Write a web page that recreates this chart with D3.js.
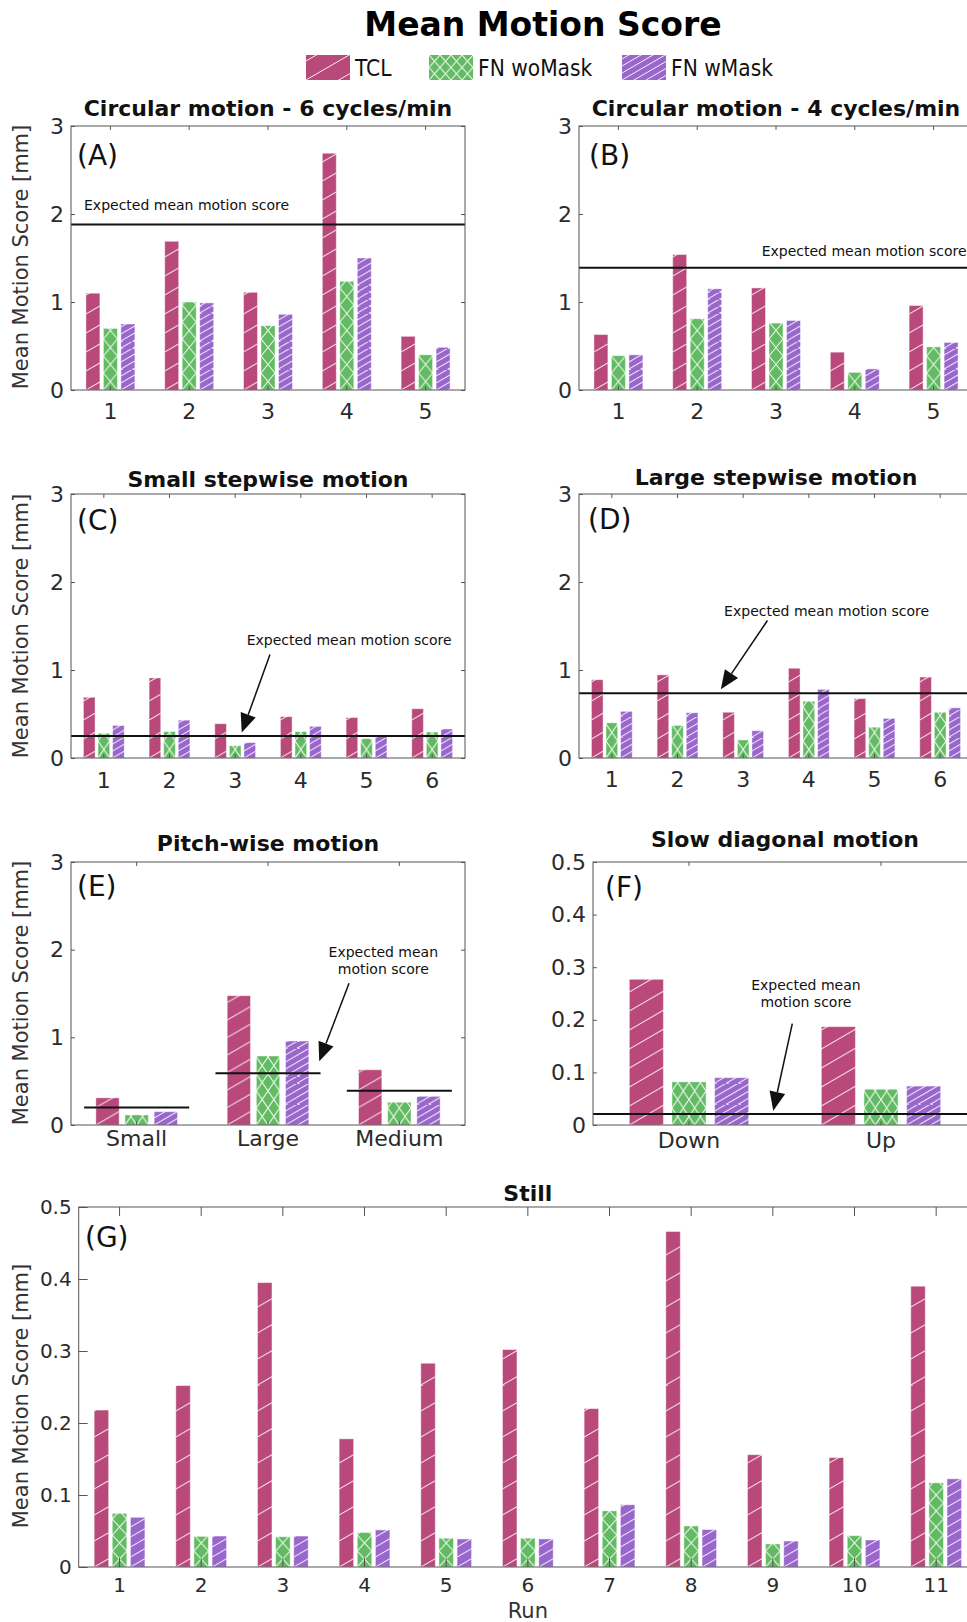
<!DOCTYPE html>
<html>
<head>
<meta charset="utf-8">
<script src="https://cdn.jsdelivr.net/npm/d3@7"></script>
<style>
  body { margin: 0; background: #fff; }
  svg { display: block; font-family: "DejaVu Sans", Verdana, sans-serif; }
</style>
</head>
<body>
<div id="chart"></div>
<script>
// Serien
const seriesNames = ["TCL", "FN woMask", "FN wMask"];
const seriesColors = ["#b8497a", "#62bb62", "#9966cc"];
const seriesHatch = ["single", "cross", "dense"];

// Kategorien
const runs5 = ["1", "2", "3", "4", "5"];
const runs6 = ["1", "2", "3", "4", "5", "6"];
const pitchCats = ["Small", "Large", "Medium"];
const diagCats = ["Down", "Up"];
const stillRuns = ["1", "2", "3", "4", "5", "6", "7", "8", "9", "10", "11"];

// Achsen-Ticks
const ticksMm = [0, 1, 2, 3];
const ticksSmall = [0, 0.1, 0.2, 0.3, 0.4, 0.5];

// (A) Circular motion - 6 cycles/min
const circ6TCL = [1.10, 1.69, 1.11, 2.69, 0.61];
const circ6FNwo = [0.70, 1.00, 0.73, 1.235, 0.40];
const circ6FNw = [0.75, 0.99, 0.86, 1.50, 0.485];
const circ6Expected = 1.88;

// (B) Circular motion - 4 cycles/min
const circ4TCL = [0.63, 1.54, 1.16, 0.43, 0.96];
const circ4FNwo = [0.39, 0.81, 0.76, 0.20, 0.49];
const circ4FNw = [0.40, 1.15, 0.79, 0.24, 0.54];
const circ4Expected = 1.39;

// (C) Small stepwise motion
const smallTCL = [0.69, 0.91, 0.39, 0.47, 0.46, 0.56];
const smallFNwo = [0.28, 0.30, 0.14, 0.30, 0.22, 0.295];
const smallFNw = [0.37, 0.43, 0.175, 0.36, 0.25, 0.33];
const smallExpected = 0.25;

// (D) Large stepwise motion
const largeTCL = [0.89, 0.945, 0.52, 1.02, 0.675, 0.92];
const largeFNwo = [0.40, 0.37, 0.205, 0.645, 0.35, 0.52];
const largeFNw = [0.53, 0.515, 0.31, 0.78, 0.45, 0.57];
const largeExpected = 0.735;

// (E) Pitch-wise motion (erwarteter Wert je Kategorie)
const pitchTCL = [0.31, 1.475, 0.63];
const pitchFNwo = [0.115, 0.787, 0.26];
const pitchFNw = [0.152, 0.958, 0.327];
const pitchExpected = [0.20, 0.59, 0.39];

// (F) Slow diagonal motion
const diagTCL = [0.277, 0.187];
const diagFNwo = [0.082, 0.068];
const diagFNw = [0.090, 0.074];
const diagExpected = 0.021;

// (G) Still
const stillTCL = [0.218, 0.252, 0.395, 0.178, 0.283, 0.302, 0.220, 0.466, 0.156, 0.152, 0.390];
const stillFNwo = [0.0745, 0.0425, 0.042, 0.048, 0.040, 0.040, 0.078, 0.057, 0.032, 0.0435, 0.117];
const stillFNw = [0.069, 0.043, 0.043, 0.0515, 0.039, 0.039, 0.0865, 0.052, 0.036, 0.0375, 0.1225];

const noteText = "Expected mean motion score";

// Layout der Teilplots
const panels = [
  { tag: "(A)", title: "Circular motion - 6 cycles/min", cats: runs5, data: [circ6TCL, circ6FNwo, circ6FNw],
    expected: circ6Expected, yMax: 3, ticks: ticksMm, left: 71, top: 126, width: 394, height: 264,
    titleY: 116, tagPos: [77, 165], xLabGap: 29, tickFont: 22, ylab: 257, hatch: [19, 17, 7],
    note: { lines: [noteText], u: 0.665, v: 2.045, anchor: "start" } },
  { tag: "(B)", title: "Circular motion - 4 cycles/min", cats: runs5, data: [circ4TCL, circ4FNwo, circ4FNw],
    expected: circ4Expected, yMax: 3, ticks: ticksMm, left: 579, top: 126, width: 394, height: 264,
    titleY: 116, tagPos: [589, 165], xLabGap: 29, tickFont: 22, hatch: [19, 17, 7],
    note: { lines: [noteText], u: 5.42, v: 1.52, anchor: "end" } },
  { tag: "(C)", title: "Small stepwise motion", cats: runs6, data: [smallTCL, smallFNwo, smallFNw],
    expected: smallExpected, yMax: 3, ticks: ticksMm, left: 71, top: 494, width: 394, height: 264,
    titleY: 487, tagPos: [77, 530], xLabGap: 30, tickFont: 22, ylab: 626, hatch: [19, 17, 7],
    note: { lines: [noteText], u: 3.175, v: 1.28, anchor: "start", arrow: [3.53, 1.175, 3.10, 0.289] } },
  { tag: "(D)", title: "Large stepwise motion", cats: runs6, data: [largeTCL, largeFNwo, largeFNw],
    expected: largeExpected, yMax: 3, ticks: ticksMm, left: 579, top: 494, width: 394, height: 264,
    titleY: 485, tagPos: [588, 529], xLabGap: 29, tickFont: 22, hatch: [19, 17, 7],
    note: { lines: [noteText], u: 2.71, v: 1.61, anchor: "start", arrow: [3.37, 1.5625, 2.66, 0.78] } },
  { tag: "(E)", title: "Pitch-wise motion", cats: pitchCats, data: [pitchTCL, pitchFNwo, pitchFNw],
    expected: pitchExpected, yMax: 3, ticks: ticksMm, left: 71, top: 862, width: 394, height: 263,
    titleY: 851, tagPos: [77, 896], xLabGap: 21, tickFont: 22, ylab: 993, hatch: [17.5, 17, 7],
    note: { lines: ["Expected mean", "motion score"], u: 2.878, v: 1.92, anchor: "middle", arrow: [2.617, 1.616, 2.39, 0.726] } },
  { tag: "(F)", title: "Slow diagonal motion", cats: diagCats, data: [diagTCL, diagFNwo, diagFNw],
    expected: diagExpected, yMax: 0.5, ticks: ticksSmall, left: 593, top: 862, width: 384, height: 263,
    titleY: 847, tagPos: [605, 897], xLabGap: 23, tickFont: 22, hatch: [19, 17, 7],
    note: { lines: ["Expected mean", "motion score"], u: 1.609, v: 0.257, anchor: "middle", arrow: [1.538, 0.1926, 1.439, 0.027] } },
  { tag: "(G)", title: "Still", cats: stillRuns, data: [stillTCL, stillFNwo, stillFNw],
    expected: null, yMax: 0.5, ticks: ticksSmall, left: 78.7, top: 1207, width: 898.3, height: 360,
    titleY: 1201, tagPos: [85, 1247], xLabGap: 25, tickFont: 20, ylab: 1396, xlab: "Run", hatch: [26, 16, 10] }
];

const W = 967, H = 1622;
const slope = 0.58;
const fmt = d3.format(".1~f");

const svg = d3.select("#chart").append("svg")
  .attr("width", W)
  .attr("height", H);

const defs = svg.append("defs");

// Schraffur-Muster (Kachel beginnt an der linken unteren Ecke jedes Balkens)
function addPattern(id, type, color, w, h) {
  const p = defs.append("pattern")
    .attr("id", id)
    .attr("patternUnits", "userSpaceOnUse")
    .attr("width", w)
    .attr("height", h);
  p.append("rect").attr("width", w).attr("height", h).attr("fill", color);
  let d = "";
  if (type === "cross") {
    d = `M0,0L${w},${h}M${w},0L0,${h}`;
  } else {
    for (let k = -4; k <= 4; k++) {
      const y0 = h + k * h;
      d += `M0,${y0}L${w},${y0 - slope * w}`;
    }
  }
  p.append("path")
    .attr("d", d)
    .attr("stroke", "#fff")
    .attr("stroke-width", 1)
    .attr("stroke-opacity", 0.9)
    .attr("fill", "none");
}

// Titel
svg.append("text")
  .attr("x", 543)
  .attr("y", 36)
  .attr("text-anchor", "middle")
  .style("font-size", "33px")
  .style("font-weight", "bold")
  .text("Mean Motion Score");

// Legende
const legendX = [306, 429, 622];
seriesNames.forEach((name, i) => {
  const type = seriesHatch[i];
  const pid = `leg-${i}`;
  if (type === "single") addPattern(pid, type, seriesColors[i], 44, 19);
  else if (type === "cross") addPattern(pid, type, seriesColors[i], 11, 12.5);
  else addPattern(pid, type, seriesColors[i], 44, 7);
  const lg = svg.append("g").attr("transform", `translate(${legendX[i]},80)`);
  lg.append("rect")
    .attr("x", 0).attr("y", -25)
    .attr("width", 44).attr("height", 25)
    .attr("fill", `url(#${pid})`);
  lg.append("text")
    .attr("x", 49)
    .attr("y", -4)
    .style("font-family", "'DejaVu Sans Condensed', 'DejaVu Sans', sans-serif")
    .style("font-size", "22.5px")
    .attr("fill", "#111")
    .text(name);
});

function drawArrow(g, x1, y1, x2, y2) {
  const ang = Math.atan2(y2 - y1, x2 - x1);
  const L = 19, hw = 8;
  const bx = x2 - L * Math.cos(ang), by = y2 - L * Math.sin(ang);
  g.append("line")
    .attr("x1", x1).attr("y1", y1)
    .attr("x2", bx).attr("y2", by)
    .attr("stroke", "#111")
    .attr("stroke-width", 1.5);
  g.append("path")
    .attr("d", `M${x2},${y2}L${bx + hw * Math.sin(ang)},${by - hw * Math.cos(ang)}L${bx - hw * Math.sin(ang)},${by + hw * Math.cos(ang)}Z`)
    .attr("fill", "#111");
}

panels.forEach((p, pi) => {
  const g = svg.append("g").attr("transform", `translate(${p.left},${p.top})`);
  const n = p.cats.length;
  const tl = 0.01 * Math.max(p.width, p.height);

  const x0 = d3.scaleBand().domain(p.cats).range([0, p.width]).padding(0);
  const bw0 = x0.bandwidth();
  const groupW = 0.6216 * bw0;
  const x1 = d3.scaleBand().domain(seriesNames).range([0, groupW]).paddingInner(0.2).paddingOuter(0);
  const xu = d3.scaleLinear().domain([0.5, n + 0.5]).range([0, p.width]);
  const y = d3.scaleLinear().domain([0, p.yMax]).range([p.height, 0]);
  const bw = x1.bandwidth();

  // Muster pro Teilplot
  const nCells = Math.max(1, Math.round(bw / 12));
  addPattern(`p${pi}-0`, "single", seriesColors[0], bw, p.hatch[0]);
  addPattern(`p${pi}-1`, "cross", seriesColors[1], bw / nCells, p.hatch[1]);
  addPattern(`p${pi}-2`, "dense", seriesColors[2], bw, p.hatch[2]);

  // Balken
  seriesNames.forEach((s, si) => {
    g.selectAll(`.bar-${si}`)
      .data(p.data[si].map((v, ci) => ({ cat: p.cats[ci], v: v })))
      .enter()
      .append("g")
      .attr("class", `bar-${si}`)
      .attr("transform", d => `translate(${x0(d.cat) + bw0 / 2 - groupW / 2 + x1(s)},${y(0)})`)
      .append("rect")
      .attr("x", 0)
      .attr("y", d => y(d.v) - y(0))
      .attr("width", bw)
      .attr("height", d => y(0) - y(d.v))
      .attr("fill", `url(#p${pi}-${si})`)
      .attr("stroke", "#fff")
      .attr("stroke-opacity", 0.45)
      .attr("stroke-width", 1);
  });

  // Erwarteter Wert
  if (Array.isArray(p.expected)) {
    p.expected.forEach((v, ci) => {
      g.append("line")
        .attr("x1", xu(ci + 1 - 0.4)).attr("x2", xu(ci + 1 + 0.4))
        .attr("y1", y(v)).attr("y2", y(v))
        .attr("stroke", "#111").attr("stroke-width", 2);
    });
  } else if (p.expected !== null) {
    g.append("line")
      .attr("x1", 0).attr("x2", p.width)
      .attr("y1", y(p.expected)).attr("y2", y(p.expected))
      .attr("stroke", "#111").attr("stroke-width", 2);
  }

  // Achsen (Ticks nach innen, wie MATLAB)
  const axL = g.append("g")
    .call(d3.axisLeft(y).tickValues(p.ticks).tickSizeInner(-tl).tickSizeOuter(0).tickPadding(7).tickFormat(fmt));
  const axR = g.append("g").attr("transform", `translate(${p.width},0)`)
    .call(d3.axisRight(y).tickValues(p.ticks).tickSizeInner(-tl).tickSizeOuter(0).tickFormat(""));
  const axT = g.append("g")
    .call(d3.axisTop(x0).tickSizeInner(-tl).tickSizeOuter(0).tickFormat(""));
  const axB = g.append("g").attr("transform", `translate(0,${p.height})`)
    .call(d3.axisBottom(x0).tickSizeInner(-tl).tickSizeOuter(0));

  [axL, axR, axT, axB].forEach(ax => {
    ax.attr("font-family", null)
      .attr("font-size", p.tickFont)
      .attr("color", "#2b2b2b");
    ax.select(".domain").remove();
    ax.selectAll(".tick line").attr("stroke", "#555");
  });
  axB.selectAll("text").attr("y", p.xLabGap).attr("dy", null);

  g.append("rect")
    .attr("width", p.width)
    .attr("height", p.height)
    .attr("fill", "none")
    .attr("stroke", "#555")
    .attr("stroke-width", 1);

  // Anmerkung
  if (p.note) {
    const nt = g.append("text")
      .attr("x", xu(p.note.u))
      .attr("y", y(p.note.v))
      .attr("text-anchor", p.note.anchor)
      .style("font-size", "14px")
      .attr("fill", "#111");
    p.note.lines.forEach((line, li) => {
      nt.append("tspan")
        .attr("x", xu(p.note.u))
        .attr("dy", li === 0 ? 0 : 17.3)
        .text(line);
    });
    if (p.note.arrow) {
      const a = p.note.arrow;
      drawArrow(g, xu(a[0]), y(a[1]), xu(a[2]), y(a[3]));
    }
  }

  // Titel und Beschriftung
  svg.append("text")
    .attr("x", p.left + p.width / 2)
    .attr("y", p.titleY)
    .attr("text-anchor", "middle")
    .style("font-size", "22px")
    .style("font-weight", "bold")
    .attr("fill", "#111")
    .text(p.title);

  svg.append("text")
    .attr("x", p.tagPos[0])
    .attr("y", p.tagPos[1])
    .style("font-size", "28px")
    .attr("fill", "#111")
    .text(p.tag);

  if (p.ylab) {
    svg.append("text")
      .attr("transform", `translate(28,${p.ylab}) rotate(-90)`)
      .attr("text-anchor", "middle")
      .style("font-size", "21px")
      .attr("fill", "#333")
      .text("Mean Motion Score [mm]");
  }
  if (p.xlab) {
    svg.append("text")
      .attr("x", p.left + p.width / 2)
      .attr("y", 1618)
      .attr("text-anchor", "middle")
      .style("font-size", "21px")
      .attr("fill", "#333")
      .text(p.xlab);
  }
});
</script>
</body>
</html>
